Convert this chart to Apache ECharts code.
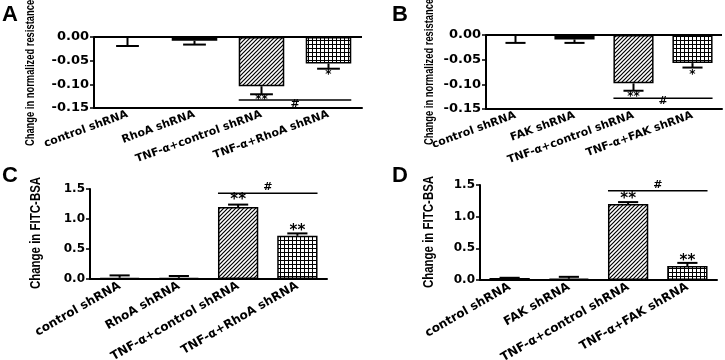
<!DOCTYPE html>
<html>
<head>
<meta charset="utf-8">
<script src="https://cdn.jsdelivr.net/npm/echarts@6/dist/echarts.min.js"></script>
<style>
  html, body { margin: 0; padding: 0; background: #fff; }
  #chart { width: 725px; height: 360px; }
</style>
</head>
<body>
<div id="chart"></div>
<script>
// categories
const catsRho = ['control shRNA', 'RhoA shRNA', 'TNF-α+control shRNA', 'TNF-α+RhoA shRNA'];
const catsFak = ['control shRNA', 'FAK shRNA', 'TNF-α+control shRNA', 'TNF-α+FAK shRNA'];

// A: resistance, RhoA
const valsA = [0, -0.008, -0.104, -0.056];
const semA = [0.019, 0.008, 0.017, 0.011];
// B: resistance, FAK
const valsB = [0, -0.009, -0.098, -0.057];
const semB = [0.016, 0.007, 0.015, 0.009];
// C: FITC-BSA, RhoA
const valsC = [0.02, 0.02, 1.2, 0.72];
const semC = [0.04, 0.03, 0.04, 0.04];
// D: FITC-BSA, FAK
const valsD = [0.03, 0.02, 1.2, 0.22];
const semD = [0.005, 0.03, 0.03, 0.05];

// significance marks: [category, value, text]
const starsA = [[2, -0.133, '**'], [3, -0.081, '*']];
const starsB = [[2, -0.126, '**'], [3, -0.081, '*']];
const starsC = [[2, 1.32, '**'], [3, 0.80, '**']];
const starsD = [[2, 1.28, '**'], [3, 0.30, '**']];
// bracket: [from category, to category, line value, '#' value]
const hashA = [2, 3, -0.133, -0.141];
const hashB = [2, 3, -0.128, -0.135];
const hashC = [2, 3, 1.43, 1.53];
const hashD = [2, 3, 1.41, 1.50];

const ticksRes = [-0.15, 0, 0.05];   // min, max, step
const ticksFitc = [0, 1.5, 0.5];

const titleRes = 'Change in normalized resistance';
const titleFitc = 'Change in FITC-BSA';

// fill patterns
function makeHatch() {
    const c = document.createElement('canvas');
    c.width = 4; c.height = 4;
    const g = c.getContext('2d');
    g.fillStyle = '#fff'; g.fillRect(0, 0, 4, 4);
    g.strokeStyle = '#000'; g.lineWidth = 1.2;
    g.beginPath();
    g.moveTo(-1, 5); g.lineTo(5, -1);
    g.moveTo(-1, 1); g.lineTo(1, -1);
    g.moveTo(3, 5); g.lineTo(5, 3);
    g.stroke();
    return c;
}
function makeGrid() {
    const c = document.createElement('canvas');
    c.width = 4; c.height = 4;
    const g = c.getContext('2d');
    g.fillStyle = '#fff'; g.fillRect(0, 0, 4, 4);
    g.fillStyle = '#000';
    g.fillRect(0, 0, 4, 1);
    g.fillRect(0, 0, 1, 4);
    return c;
}
const fills = ['#000', '#000', { image: makeHatch(), repeat: 'repeat' }, { image: makeGrid(), repeat: 'repeat' }];

const grids = [
    { left: 94, top: 37, width: 268, height: 71 },
    { left: 486, top: 35, width: 236, height: 74 },
    { left: 90, top: 189, width: 237, height: 90 },
    { left: 480, top: 185, width: 237, height: 95 }
];

const panels = [
    { cats: catsRho, vals: valsA, sem: semA, dir: -1, stars: starsA, hash: hashA, ticks: ticksRes, digits: 2,
      labelSize: 11, tickSize: 13, rotate: 20, starSize: 12 },
    { cats: catsFak, vals: valsB, sem: semB, dir: -1, stars: starsB, hash: hashB, ticks: ticksRes, digits: 2,
      labelSize: 11, tickSize: 13, rotate: 20, starSize: 12 },
    { cats: catsRho, vals: valsC, sem: semC, dir: 1, stars: starsC, hash: hashC, ticks: ticksFitc, digits: 1,
      labelSize: 12, tickSize: 12, rotate: 30, starSize: 15 },
    { cats: catsFak, vals: valsD, sem: semD, dir: 1, stars: starsD, hash: hashD, ticks: ticksFitc, digits: 1,
      labelSize: 12, tickSize: 12, rotate: 30, starSize: 15 }
];

const black = { color: '#000', width: 2 };
const xAxes = [], yAxes = [], series = [];

panels.forEach((p, k) => {
    xAxes.push({
        gridIndex: k, type: 'category', data: p.cats,
        axisLine: { onZero: false, lineStyle: black },
        axisTick: { alignWithLabel: true, length: 4, lineStyle: { color: '#000', width: 1.5 } },
        axisLabel: { interval: 0, rotate: p.rotate, margin: 6, color: '#000', fontWeight: 'bold',
                     fontSize: p.labelSize, fontFamily: 'DejaVu Sans' }
    });
    yAxes.push({
        gridIndex: k, type: 'value', min: p.ticks[0], max: p.ticks[1], interval: p.ticks[2],
        splitLine: { show: false },
        axisLine: { show: true, lineStyle: black },
        axisTick: { show: true, length: 4, lineStyle: { color: '#000', width: 1.5 } },
        axisLabel: { margin: 5, color: '#000', fontWeight: 'bold', fontSize: p.tickSize, fontFamily: 'DejaVu Sans',
                     formatter: v => v.toFixed(p.digits) }
    });

    const bar = {
        type: 'bar', xAxisIndex: k, yAxisIndex: k, barWidth: '68%', animation: false,
        data: p.vals.map((v, i) => ({ value: v, itemStyle: { color: fills[i] } })),
        itemStyle: { borderColor: '#000', borderWidth: 1.5 }
    };
    if (p.dir < 0) {
        // line at zero along the top of the negative panels
        bar.markLine = {
            silent: true, symbol: 'none', label: { show: false },
            lineStyle: { color: '#000', width: 2, type: 'solid' },
            data: [{ yAxis: 0 }]
        };
    }
    series.push(bar);

    // one-sided error bars
    series.push({
        type: 'custom', xAxisIndex: k, yAxisIndex: k, animation: false, clip: false, z: 5,
        data: p.vals.map((v, i) => [i, v, v + p.dir * p.sem[i]]),
        renderItem: (params, api) => {
            const a = api.coord([api.value(0), api.value(1)]);
            const b = api.coord([api.value(0), api.value(2)]);
            const hw = api.size([1, 0])[0] * 0.17;
            const st = { stroke: '#000', lineWidth: 2 };
            return { type: 'group', children: [
                { type: 'line', shape: { x1: a[0], y1: a[1], x2: b[0], y2: b[1] }, style: st },
                { type: 'line', shape: { x1: b[0] - hw, y1: b[1], x2: b[0] + hw, y2: b[1] }, style: st }
            ] };
        }
    });

    // stars
    series.push({
        type: 'custom', xAxisIndex: k, yAxisIndex: k, animation: false, clip: false, z: 6,
        data: p.stars.map(s => [s[0], s[1]]),
        renderItem: (params, api) => {
            const c = api.coord([api.value(0), api.value(1)]);
            return { type: 'text', x: c[0], y: c[1],
                     style: { text: p.stars[params.dataIndex][2], fill: '#000',
                              font: 'bold ' + p.starSize + 'px "DejaVu Sans"',
                              align: 'center', verticalAlign: 'middle' } };
        }
    });

    // bracket with '#'
    series.push({
        type: 'custom', xAxisIndex: k, yAxisIndex: k, animation: false, clip: false, z: 6,
        data: [p.hash],
        renderItem: (params, api) => {
            const l = api.coord([api.value(0), api.value(2)]);
            const r = api.coord([api.value(1), api.value(2)]);
            const t = api.coord([api.value(0), api.value(3)]);
            const hw = api.size([1, 0])[0] * 0.34;
            return { type: 'group', children: [
                { type: 'line', shape: { x1: l[0] - hw, y1: l[1], x2: r[0] + hw, y2: r[1] },
                  style: { stroke: '#000', lineWidth: 1.5 } },
                { type: 'text', x: (l[0] + r[0]) / 2, y: t[1],
                  style: { text: '#', fill: '#000', font: 'bold 11px "DejaVu Sans"', align: 'center', verticalAlign: 'middle' } }
            ] };
        }
    });
});

const letter = (t, x, y) => ({ text: t, left: x, top: y, padding: 0,
    textStyle: { fontSize: 22, fontWeight: 'bold', color: '#000', fontFamily: 'Liberation Sans' } });

// condensed vertical axis titles
const yTitle = (t, x, y, size, squeeze) => ({
    type: 'text', x: x, y: y, rotation: Math.PI / 2, scaleX: squeeze,
    style: { text: t, fill: '#000', font: 'bold ' + size + 'px "Liberation Sans"', align: 'center', verticalAlign: 'middle' }
});

const chart = echarts.init(document.getElementById('chart'));
chart.setOption({
    backgroundColor: '#fff',
    title: [letter('A', 2, 4), letter('B', 392, 4), letter('C', 2, 165), letter('D', 392, 165)],
    graphic: [
        yTitle(titleRes, 30, 73, 13, 0.72),
        yTitle(titleRes, 429, 72, 13, 0.72),
        yTitle(titleFitc, 36, 233, 14, 0.82),
        yTitle(titleFitc, 429, 232, 14, 0.82)
    ],
    grid: grids.map(g => Object.assign({ outerBoundsMode: 'none', containLabel: false }, g)),
    xAxis: xAxes,
    yAxis: yAxes,
    series: series
});
</script>
</body>
</html>
